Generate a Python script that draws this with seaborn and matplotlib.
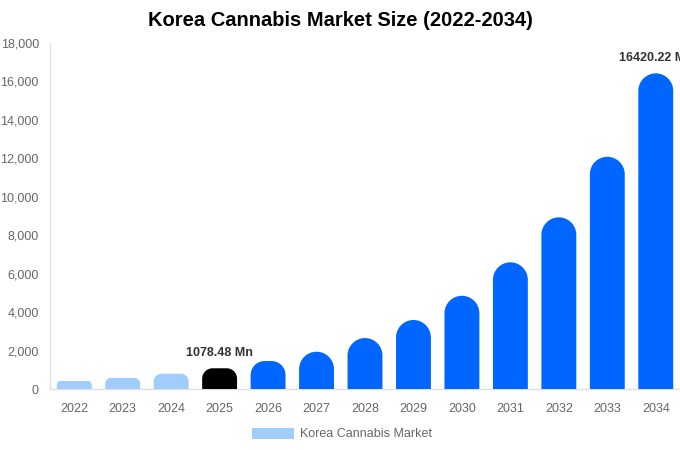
import matplotlib
matplotlib.use("Agg")
import matplotlib.pyplot as plt
from matplotlib.patches import PathPatch, Patch
from matplotlib.path import Path
from matplotlib.ticker import FuncFormatter
import pandas as pd
import seaborn as sns

years = ["2022", "2023", "2024", "2025", "2026", "2027", "2028",
         "2029", "2030", "2031", "2032", "2033", "2034"]
market_size = [420, 575, 795, 1078.48, 1455, 1940, 2650,
               3590, 4850, 6590, 8930, 12080, 16420.22]
labelled = {"2025": "1078.48 Mn", "2034": "16420.22 Mn"}

LIGHT = "#a0cdfb"
BLUE = "#0066ff"
BLACK = "#000000"
bar_colors = [LIGHT if int(y) < 2025 else (BLACK if y == "2025" else BLUE) for y in years]


def rounded_top(ax, x0, x1, top, color):
    # build the bar outline in pixels so the corners stay circular
    to_px = ax.transData
    (px0, py0) = to_px.transform((x0, 0))
    (px1, py1) = to_px.transform((x1, top))
    r = min((px1 - px0) / 2, (py1 - py0) / 2)
    k = 0.5523 * r
    verts = [
        (px0, py0), (px0, py1 - r),
        (px0, py1 - r + k), (px0 + r - k, py1), (px0 + r, py1),
        (px1 - r, py1),
        (px1 - r + k, py1), (px1, py1 - r + k), (px1, py1 - r),
        (px1, py0), (px0, py0),
    ]
    codes = [Path.MOVETO, Path.LINETO,
             Path.CURVE4, Path.CURVE4, Path.CURVE4,
             Path.LINETO,
             Path.CURVE4, Path.CURVE4, Path.CURVE4,
             Path.LINETO, Path.CLOSEPOLY]
    data_verts = to_px.inverted().transform(verts)
    ax.add_patch(PathPatch(Path(data_verts, codes), facecolor=color,
                           edgecolor="none", zorder=3))


df = pd.DataFrame({"year": years, "size": market_size})

sns.set_theme(style="white")
plt.rcParams["font.family"] = ["Liberation Sans", "DejaVu Sans"]

fig = plt.figure(figsize=(6.8, 4.5), dpi=100)
ax = fig.add_axes([50 / 680, 61 / 450, 630 / 680, 346 / 450])

sns.barplot(df, x="year", y="size", hue="year", palette=bar_colors,
            width=0.72, saturation=1, legend=False, ax=ax)
ax.set_xlim(-0.5, len(years) - 0.5)
ax.set_ylim(0, 18000)
ax.set_yticks(range(0, 18001, 2000))
ax.yaxis.set_major_formatter(FuncFormatter(lambda v, _: f"{int(v):,}"))

bars = list(ax.patches)
for p in bars:
    x0 = p.get_x()
    x1 = x0 + p.get_width()
    top = p.get_height()
    col = p.get_facecolor()
    p.remove()
    rounded_top(ax, x0, x1, top, col)

for i, (yr, val) in enumerate(zip(years, market_size)):
    if yr in labelled:
        ax.annotate(labelled[yr], (i, val), xytext=(0, 7), textcoords="offset points",
                    ha="center", va="bottom", fontsize=9, fontweight="bold",
                    color="#333333", annotation_clip=False)

ax.set_xlabel("")
ax.set_ylabel("")
for side in ["top", "right"]:
    ax.spines[side].set_visible(False)
for side in ["left", "bottom"]:
    ax.spines[side].set_color("#e0e0e0")
    ax.spines[side].set_linewidth(1)
ax.tick_params(axis="both", length=0, labelsize=9, labelcolor="#666666")
ax.tick_params(axis="y", pad=8)
ax.tick_params(axis="x", pad=10)

fig.suptitle("Korea Cannabis Market Size (2022-2034)", x=0.5, y=1 - 20 / 450,
             va="center", fontsize=14.5, fontweight="bold", color="#000000")

handle = Patch(facecolor=LIGHT, edgecolor="none")
fig.legend([handle], ["Korea Cannabis Market"], loc="center",
           bbox_to_anchor=(0.503, 1 - 434 / 450), frameon=False, fontsize=9,
           labelcolor="#666666", handlelength=3.3, handleheight=1.0,
           handletextpad=0.5)

fig.savefig("out.png", dpi=100)
